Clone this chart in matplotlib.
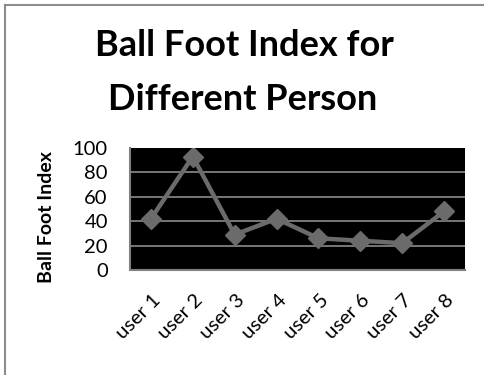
import matplotlib
matplotlib.use("Agg")
import matplotlib.pyplot as plt
from matplotlib.lines import Line2D
from matplotlib.transforms import ScaledTranslation

users = ["user 1", "user 2", "user 3", "user 4", "user 5", "user 6", "user 7", "user 8"]
ball_foot_index = [42, 93, 29, 42, 26, 24, 22, 48]
y_ticks = [0, 20, 40, 60, 80, 100]

plt.rcParams["font.family"] = ["Lato", "DejaVu Sans"]

fig = plt.figure(figsize=(4.84, 3.75), dpi=100)
fig.patch.set_facecolor("white")

# chart frame (left and top edges)
fig.add_artist(Line2D([4.5 / 484, 4.5 / 484], [0, 1 - 4.5 / 375], transform=fig.transFigure,
                      color="#8c8c8c", lw=1.5))
fig.add_artist(Line2D([4.5 / 484, 1], [1 - 4.5 / 375, 1 - 4.5 / 375], transform=fig.transFigure,
                      color="#8c8c8c", lw=1.5))

ax = fig.add_axes([130 / 484, 1 - 270 / 375, 335 / 484, 122 / 375])
ax.set_facecolor("black")

x = list(range(len(users)))
ax.plot(x, ball_foot_index, color="#6b6b6b", lw=3.2, marker="D", markersize=10,
        markerfacecolor="#6b6b6b", markeredgecolor="#6b6b6b", zorder=3)

ax.set_xlim(-0.5, len(users) - 0.5)
ax.set_ylim(0, 100)
ax.set_yticks(y_ticks)
ax.set_yticklabels([str(v) for v in y_ticks], fontsize=14.5)
ax.set_xticks(x)
ax.set_xticklabels(users, fontsize=14.5, rotation=45, ha="right", va="center",
                   rotation_mode="anchor")
ax.tick_params(axis="both", length=0)
ax.tick_params(axis="y", pad=16)
ax.tick_params(axis="x", pad=20)
shift = ScaledTranslation(0.07, 0, fig.dpi_scale_trans)
for lbl in ax.get_xticklabels():
    lbl.set_transform(lbl.get_transform() + shift)

for v in y_ticks[1:-1]:
    ax.axhline(v, color="#808080", lw=1.3, zorder=1)

for side in ("top", "right"):
    ax.spines[side].set_visible(False)
for side in ("left", "bottom"):
    ax.spines[side].set_color("#808080")
    ax.spines[side].set_linewidth(1.5)

fig.text(46 / 484, 1 - 217 / 375, "Ball Foot Index", rotation=90, fontsize=14,
         fontweight="bold", ha="center", va="center")

fig.text(0.505, 1 - 46 / 375, "Ball Foot Index for", fontsize=26, fontweight="bold",
         ha="center", va="center")
fig.text(0.502, 1 - 99 / 375, "Different Person", fontsize=26, fontweight="bold",
         ha="center", va="center")

fig.savefig("out.png", dpi=100, facecolor="white")
